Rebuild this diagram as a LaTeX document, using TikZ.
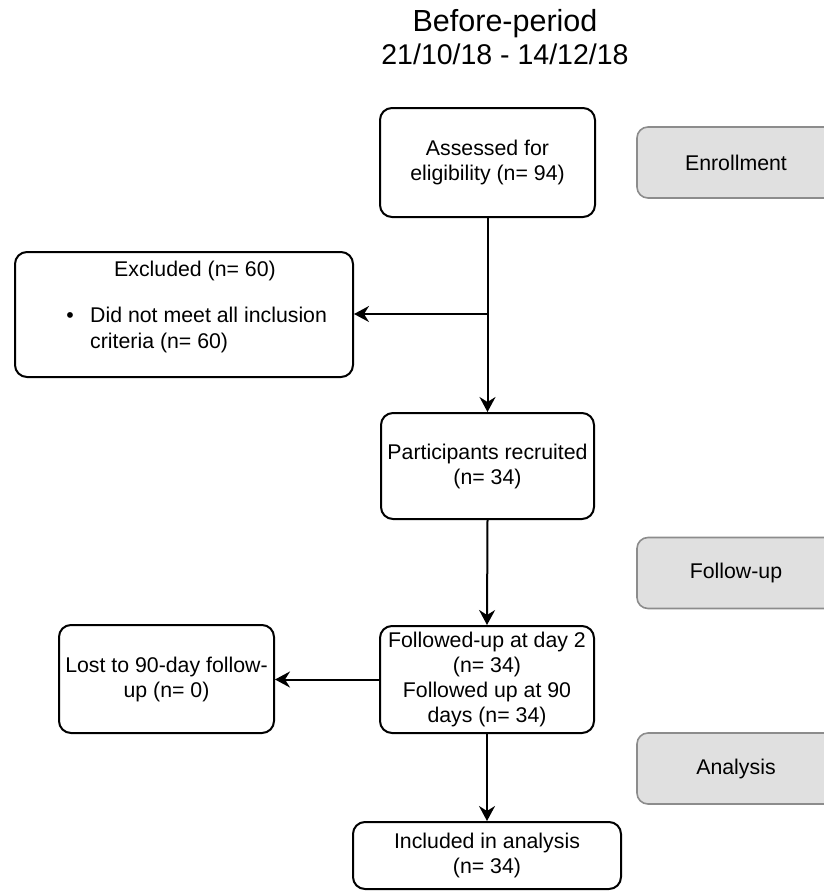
\documentclass[tikz,border=0pt]{standalone}
\usepackage{fontspec}
\setmainfont{Liberation Sans}
\usetikzlibrary{arrows.meta}
\definecolor{stagefill}{HTML}{E0E0E0}
\definecolor{stageline}{HTML}{8C8C8C}
\begin{document}
\begin{tikzpicture}[x=1pt,y=-1pt,
  box/.style={draw=black, line width=2pt, rounded corners=12pt, fill=white,
    align=center, inner sep=0pt, font=\fontsize{21.3}{25}\selectfont},
  stage/.style={draw=stageline, fill=stagefill, line width=1.6pt, rounded corners=11pt,
    inner sep=0pt, minimum width=198pt, minimum height=71pt, font=\fontsize{21.3}{25}\selectfont},
  txt/.style={inner sep=0pt, font=\fontsize{21.3}{25}\selectfont},
  ttl/.style={inner sep=0pt, font=\fontsize{28.5}{33}\selectfont},
  arr/.style={line width=2pt, -{Stealth[length=15pt,width=16pt,inset=5pt]}}
]
\useasboundingbox (0,0) rectangle (824,891);
\clip (0,0) rectangle (824,891);

% title
\node[ttl, anchor=base, font=\fontsize{30.5}{33}\selectfont] (t1) at (505,32) {Before-period};
\node[ttl, anchor=base] (t2) at (505,65) {21/10/18 - 14/12/18};

% main boxes
\node[box, minimum width=215pt, minimum height=109pt] (assess) at (487.5,162.5)
  {Assessed for\\eligibility (n= 94)};
\node[box, minimum width=338pt, minimum height=125pt] (excl) at (184,314.5) {};
\node[txt, anchor=base] (exhead) at (195,276) {Excluded (n= 60)};
\node[txt, anchor=base] (bul) at (70,322) {•};
\node[txt, anchor=base west] (ex1) at (90,322) {Did not meet all inclusion};
\node[txt, anchor=base west] (ex2) at (90,348) {criteria (n= 60)};

\node[box, minimum width=213pt, minimum height=106pt] (recr) at (487.5,466)
  {Participants recruited\\(n= 34)};
\node[box, minimum width=214pt, minimum height=107pt] (fu) at (487,679.5)
  {Followed-up at day 2\\(n= 34)\\Followed up at 90\\days (n= 34)};
\node[box, minimum width=215pt, minimum height=108pt] (lost) at (166.5,679)
  {Lost to 90-day follow-\\up (n= 0)};
\node[box, minimum width=268pt, minimum height=67pt] (incl) at (487,855.5)
  {Included in analysis\\(n= 34)};

% stage labels
\node[stage] (enr) at (736,162.5) {Enrollment};
\node[stage] (fol) at (736,573) {Follow-up};
\node[stage] (ana) at (736,768.5) {Analysis};

% connectors
\coordinate (br) at (assess.south |- 0,314);
\draw[line width=2pt] (assess.south) -- (br);
\draw[arr] (br) -- (recr.north);
\draw[arr] (br) -- (br -| excl.east);
\draw[arr] (recr.south) -- (fu.north);
\draw[arr] (fu.south) -- (incl.north);
\draw[arr] (fu.west) -- (fu.west -| lost.east);
\end{tikzpicture}
\end{document}
